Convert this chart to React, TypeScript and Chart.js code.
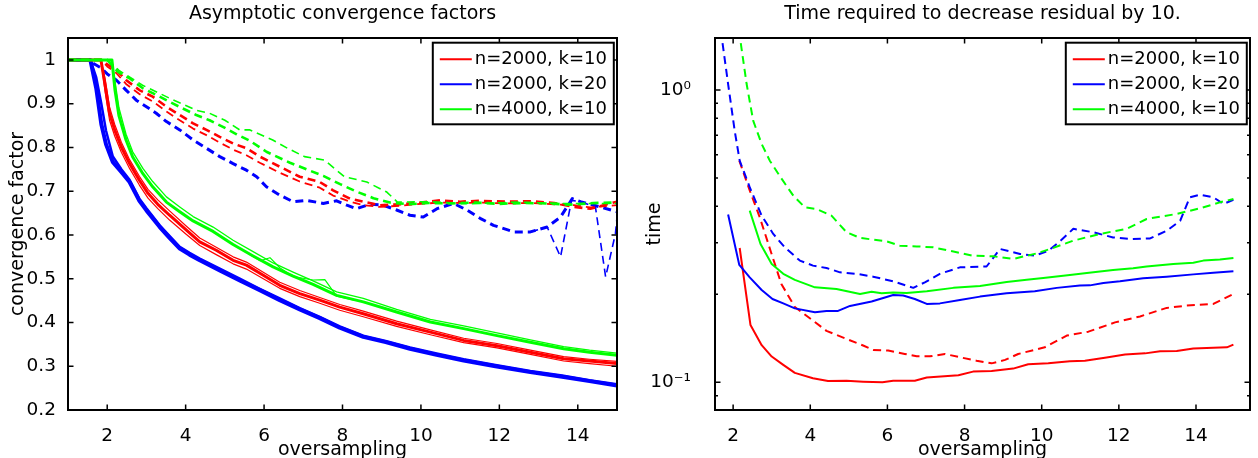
import React, { useEffect, useRef } from "react";
import { Chart, registerables } from "chart.js";
Chart.register(...registerables);

const FONT = "'DejaVu Sans', 'Liberation Sans', sans-serif";
const RED = "#ff0000";
const BLUE = "#0000ff";
const GREEN = "#00ff00";

// ---------- tick labels / text ----------
const leftTitle = "Asymptotic convergence factors";
const rightTitle = "Time required to decrease residual by 10.";
const xAxisLabel = "oversampling";
const leftYLabel = "convergence factor";
const rightYLabel = "time";
const leftXTicks = [2, 4, 6, 8, 10, 12, 14];
const leftYTicks = [0.2, 0.3, 0.4, 0.5, 0.6, 0.7, 0.8, 0.9, 1];
const rightXTicks = [2, 4, 6, 8, 10, 12, 14];
const rightYTicks = [0.09, 0.1, 0.2, 0.3, 0.4, 0.5, 0.6, 0.7, 0.8, 0.9, 1];
const legendLabels = ["n=2000, k=10", "n=2000, k=20", "n=4000, k=10"];
const legendColors = [RED, BLUE, GREEN];

// ---------- left panel: convergence factors (solid) ----------
const cfRedX = [1, 1.84, 1.95, 2.06, 2.19, 2.36, 2.57, 2.82, 3.04, 3.29, 3.59, 4.02, 4.36, 4.78, 5.21, 5.55, 5.98, 6.4, 6.91, 7.42, 7.93, 8.53, 9.38, 10.24, 11.09, 11.94, 12.79, 13.64, 14.3, 15];
const cfRedA = [1, 1, 0.94, 0.878, 0.84, 0.801, 0.763, 0.725, 0.695, 0.67, 0.645, 0.611, 0.584, 0.565, 0.542, 0.531, 0.508, 0.485, 0.466, 0.451, 0.435, 0.42, 0.397, 0.378, 0.359, 0.347, 0.332, 0.317, 0.312, 0.306];
const cfRedB = [1, 1, 0.925, 0.862, 0.826, 0.789, 0.752, 0.714, 0.684, 0.66, 0.634, 0.601, 0.576, 0.555, 0.534, 0.522, 0.5, 0.478, 0.459, 0.444, 0.428, 0.413, 0.391, 0.372, 0.354, 0.342, 0.327, 0.312, 0.306, 0.3];
const cfRedC = [1, 1, 0.955, 0.892, 0.853, 0.812, 0.772, 0.734, 0.704, 0.68, 0.655, 0.62, 0.593, 0.572, 0.55, 0.538, 0.515, 0.492, 0.473, 0.457, 0.441, 0.426, 0.403, 0.383, 0.364, 0.352, 0.337, 0.322, 0.316, 0.311];

const cfBlueX = [1, 1.57, 1.72, 1.85, 1.97, 2.14, 2.36, 2.57, 2.82, 3.0, 3.34, 3.6, 3.85, 4.1, 4.36, 4.87, 5.38, 5.89, 6.4, 6.91, 7.42, 7.93, 8.53, 9.1, 9.72, 10.4, 11.09, 11.9, 12.79, 13.6, 14.3, 15];
const cfBlueA = [1, 1, 0.935, 0.853, 0.807, 0.767, 0.744, 0.721, 0.678, 0.656, 0.618, 0.592, 0.569, 0.555, 0.542, 0.519, 0.496, 0.474, 0.451, 0.43, 0.41, 0.388, 0.367, 0.355, 0.34, 0.326, 0.313, 0.3, 0.2865, 0.276, 0.266, 0.256];
const cfBlueB = [1, 1, 0.96, 0.9, 0.838, 0.78, 0.75, 0.726, 0.683, 0.661, 0.622, 0.597, 0.573, 0.559, 0.546, 0.523, 0.5, 0.477, 0.455, 0.433, 0.413, 0.391, 0.37, 0.358, 0.343, 0.329, 0.316, 0.303, 0.289, 0.279, 0.268, 0.259];

const cfGreenX = [1, 2.12, 2.2, 2.3, 2.48, 2.65, 2.91, 3.16, 3.51, 3.85, 4.19, 4.7, 5.21, 5.72, 6.23, 6.74, 7.25, 7.85, 8.53, 9.38, 10.24, 11.09, 11.94, 12.79, 13.64, 14.3, 15];
const cfGreenA = [1, 1, 0.93, 0.872, 0.817, 0.778, 0.74, 0.71, 0.675, 0.653, 0.632, 0.608, 0.578, 0.552, 0.527, 0.506, 0.487, 0.462, 0.447, 0.424, 0.401, 0.386, 0.37, 0.355, 0.34, 0.332, 0.325];
const cfGreenB = [1, 1, 0.95, 0.89, 0.83, 0.79, 0.752, 0.722, 0.687, 0.664, 0.642, 0.618, 0.588, 0.562, 0.536, 0.515, 0.495, 0.47, 0.455, 0.43, 0.407, 0.392, 0.376, 0.36, 0.345, 0.337, 0.33];
const cfGreenOutX = [5.6, 5.9, 6.15, 6.4, 6.74, 7.25, 7.55, 7.85, 8.3];
const cfGreenOutY = [0.557, 0.541, 0.548, 0.525, 0.505, 0.497, 0.498, 0.46, 0.451];

// ---------- left panel: convergence factors (dashed) ----------
const cfRedDashX = [1, 1.85, 2.0, 2.23, 2.48, 2.82, 3.16, 3.51, 3.85, 4.19, 4.53, 4.87, 5.21, 5.55, 5.89, 6.4, 6.91, 7.42, 7.76, 8.19, 8.53, 8.96, 9.5, 10.0, 10.49, 11.0, 11.5, 12.19, 12.8, 13.4, 13.9, 14.32, 15];
const cfRedDashA = [1, 1, 0.99, 0.977, 0.954, 0.931, 0.916, 0.893, 0.874, 0.855, 0.84, 0.824, 0.809, 0.798, 0.779, 0.756, 0.733, 0.721, 0.702, 0.683, 0.676, 0.668, 0.67, 0.674, 0.679, 0.676, 0.678, 0.676, 0.677, 0.673, 0.664, 0.66, 0.676];
const cfRedDashB = [1, 1, 0.985, 0.97, 0.945, 0.922, 0.905, 0.882, 0.862, 0.843, 0.828, 0.811, 0.795, 0.782, 0.765, 0.742, 0.722, 0.708, 0.69, 0.676, 0.668, 0.664, 0.667, 0.671, 0.674, 0.673, 0.674, 0.672, 0.673, 0.67, 0.668, 0.663, 0.668];

const cfGreenDashX = [1, 2.0, 2.27, 2.57, 2.91, 3.25, 3.59, 3.93, 4.27, 4.61, 4.95, 5.3, 5.64, 6.06, 6.66, 7.08, 7.51, 7.94, 8.36, 8.79, 9.21, 9.7, 10.2, 10.8, 11.4, 12.0, 12.6, 13.2, 13.8, 14.4, 15];
const cfGreenDashA = [1, 1, 0.973, 0.958, 0.935, 0.92, 0.904, 0.889, 0.874, 0.862, 0.847, 0.83, 0.815, 0.79, 0.765, 0.75, 0.735, 0.716, 0.699, 0.684, 0.674, 0.67, 0.673, 0.672, 0.674, 0.671, 0.673, 0.672, 0.669, 0.673, 0.674];
const cfGreenDashOutX = [1, 2.0, 2.3, 2.9, 3.6, 4.27, 4.61, 5.0, 5.38, 5.64, 6.22, 6.6, 7.03, 7.54, 8.05, 8.62, 9.13, 9.4, 10.2, 11.2, 12.4, 13.6, 15];
const cfGreenDashOutY = [1, 1, 0.976, 0.942, 0.912, 0.885, 0.878, 0.862, 0.84, 0.84, 0.817, 0.798, 0.779, 0.771, 0.733, 0.721, 0.698, 0.675, 0.676, 0.671, 0.675, 0.672, 0.672];

const cfBlueDashX = [1, 1.5, 1.85, 2.0, 2.23, 2.48, 2.74, 3.0, 3.25, 3.51, 3.85, 4.19, 4.53, 4.87, 5.21, 5.55, 5.81, 6.06, 6.4, 6.74, 7.08, 7.51, 7.85, 8.11, 8.36, 8.7, 9.04, 9.38, 9.72, 10.06, 10.41, 10.83, 11.17, 11.51, 11.85, 12.37, 12.79, 13.22, 13.56, 13.86, 14.07, 14.41, 15];
const cfBlueDashA = [1, 1, 0.981, 0.968, 0.954, 0.931, 0.908, 0.893, 0.878, 0.859, 0.84, 0.817, 0.798, 0.779, 0.763, 0.748, 0.733, 0.71, 0.691, 0.676, 0.679, 0.672, 0.678, 0.668, 0.66, 0.67, 0.668, 0.657, 0.645, 0.641, 0.66, 0.672, 0.657, 0.638, 0.622, 0.607, 0.607, 0.618, 0.641, 0.683, 0.676, 0.668, 0.653];
const cfBlueSpikeX = [12.79, 13.22, 13.56, 13.84, 14.07, 14.45, 14.71, 14.96, 15];
const cfBlueSpikeY = [0.607, 0.618, 0.55, 0.679, 0.676, 0.664, 0.504, 0.603, 0.64];

// ---------- right panel: time ----------
const tRedX = [2.17, 2.45, 2.74, 3.0, 3.3, 3.6, 4.07, 4.46, 4.94, 5.37, 5.87, 6.15, 6.71, 7.02, 7.84, 8.22, 8.7, 9.26, 9.65, 10.17, 10.73, 11.12, 11.68, 12.16, 12.68, 13.07, 13.5, 13.93, 14.45, 14.8, 14.97];
const tRedY = [0.288, 0.157, 0.134, 0.1225, 0.1147, 0.1077, 0.1032, 0.101, 0.1012, 0.1005, 0.1, 0.1013, 0.1013, 0.1038, 0.1057, 0.1088, 0.1094, 0.1114, 0.1153, 0.1161, 0.118, 0.1185, 0.1215, 0.1244, 0.1256, 0.1276, 0.128, 0.1306, 0.1313, 0.1317, 0.1346];
const tRedDashX = [2.16, 2.43, 2.69, 2.97, 3.25, 3.6, 4.07, 4.42, 4.94, 5.37, 5.63, 6.02, 6.45, 6.76, 7.1, 7.49, 7.88, 8.31, 8.7, 9.05, 9.39, 10.08, 10.65, 11.21, 11.9, 12.55, 13.24, 13.76, 14.45, 14.97];
const tRedDashY = [0.573, 0.453, 0.367, 0.282, 0.217, 0.181, 0.1625, 0.15, 0.1407, 0.1336, 0.129, 0.1285, 0.125, 0.1227, 0.1227, 0.125, 0.1218, 0.1186, 0.1161, 0.1193, 0.125, 0.1318, 0.1445, 0.149, 0.1603, 0.168, 0.1797, 0.183, 0.1854, 0.2006];
const tBlueX = [1.87, 2.16, 2.43, 2.74, 3.02, 3.3, 3.6, 4.12, 4.42, 4.72, 5.03, 5.59, 6.15, 6.41, 6.71, 7.02, 7.36, 7.88, 8.4, 9.09, 9.82, 10.39, 10.99, 11.25, 11.6, 12.03, 12.63, 13.24, 13.93, 14.45, 14.97];
const tBlueY = [0.375, 0.252, 0.2286, 0.207, 0.1928, 0.1862, 0.179, 0.1735, 0.1755, 0.1755, 0.1825, 0.189, 0.199, 0.198, 0.1928, 0.1854, 0.1862, 0.1913, 0.1964, 0.2015, 0.2047, 0.2104, 0.2142, 0.2146, 0.2188, 0.2215, 0.2268, 0.2298, 0.234, 0.2372, 0.2398];
const tBlueDashX = [1.68, 1.87, 2.04, 2.17, 2.43, 2.74, 3.04, 3.34, 3.73, 4.07, 4.42, 4.77, 5.2, 5.63, 6.15, 6.67, 6.97, 7.36, 7.88, 8.57, 8.92, 9.44, 9.82, 10.17, 10.47, 10.82, 11.34, 11.85, 12.29, 12.81, 13.24, 13.59, 13.84, 14.1, 14.45, 14.71, 14.97];
const tBlueDashY = [1.6, 1.048, 0.726, 0.573, 0.465, 0.3715, 0.3218, 0.2895, 0.2608, 0.2507, 0.246, 0.2378, 0.235, 0.2298, 0.2215, 0.2104, 0.2198, 0.235, 0.2473, 0.249, 0.2858, 0.2748, 0.2711, 0.282, 0.3035, 0.335, 0.326, 0.313, 0.3093, 0.3105, 0.33, 0.357, 0.4293, 0.4385, 0.4293, 0.4075, 0.4206];
const tGreenX = [2.43, 2.71, 3.0, 3.3, 3.6, 4.12, 4.68, 5.29, 5.59, 5.85, 6.15, 6.5, 7.02, 7.71, 8.4, 9.09, 9.61, 10.04, 10.73, 11.17, 11.85, 12.37, 12.72, 13.41, 13.93, 14.19, 14.62, 14.97];
const tGreenY = [0.3865, 0.2973, 0.254, 0.235, 0.224, 0.2113, 0.2087, 0.2006, 0.2042, 0.2015, 0.203, 0.202, 0.2047, 0.2104, 0.2137, 0.2205, 0.2244, 0.2275, 0.2329, 0.2366, 0.2423, 0.2454, 0.249, 0.254, 0.2566, 0.2608, 0.263, 0.2663];
const tGreenDashX = [2.15, 2.35, 2.52, 2.74, 2.95, 3.26, 3.56, 3.86, 4.16, 4.55, 4.94, 5.29, 5.98, 6.32, 6.76, 7.19, 7.71, 8.22, 8.74, 9.26, 9.87, 10.3, 10.82, 11.51, 12.2, 12.72, 13.5, 14.1, 14.62, 14.97];
const tGreenDashY = [1.6, 1.048, 0.785, 0.6535, 0.573, 0.4963, 0.435, 0.3968, 0.3917, 0.3715, 0.326, 0.3118, 0.3035, 0.2934, 0.2917, 0.2895, 0.28, 0.271, 0.2698, 0.2643, 0.276, 0.2883, 0.3052, 0.3218, 0.335, 0.362, 0.3767, 0.3937, 0.4127, 0.4237];

// ---------- helpers ----------
const DASH = [8, 5];

function series(xs: number[], ys: number[], color: string, width: number, dashed = false) {
  return {
    data: xs.map((x, i) => ({ x, y: ys[i] })),
    borderColor: color,
    backgroundColor: color,
    borderWidth: width,
    borderDash: dashed ? DASH : [],
    borderJoinStyle: "round",
    pointRadius: 0,
    pointHoverRadius: 0,
    fill: false,
    tension: 0,
    clip: 0,
  };
}

const tickFont = { family: FONT, size: 18.5 };

const framePlugin = {
  id: "frameAndLegend",
  afterDatasetsDraw(chart: any) {
    const { ctx, chartArea: a } = chart;
    const xs = chart.scales.x;
    const ys = chart.scales.y;
    ctx.save();
    ctx.setLineDash([]);
    ctx.strokeStyle = "#000";
    ctx.lineWidth = 1.5;
    ctx.beginPath();
    for (const t of xs.ticks) {
      const p = xs.getPixelForValue(t.value);
      ctx.moveTo(p, a.bottom);
      ctx.lineTo(p, a.bottom - 5.5);
      ctx.moveTo(p, a.top);
      ctx.lineTo(p, a.top + 5.5);
    }
    for (const t of ys.ticks) {
      const p = ys.getPixelForValue(t.value);
      const L = t.label === "" ? 3 : 5.5;
      ctx.moveTo(a.left, p);
      ctx.lineTo(a.left + L, p);
      ctx.moveTo(a.right, p);
      ctx.lineTo(a.right - L, p);
    }
    ctx.stroke();
    ctx.lineWidth = 2;
    ctx.strokeRect(a.left, a.top, a.right - a.left, a.bottom - a.top);

    // legend
    const w = 181;
    const h = 81.6;
    const bx = a.right - 3.2 - w;
    const by = a.top + 4.7;
    ctx.fillStyle = "#fff";
    ctx.fillRect(bx, by, w, h);
    ctx.strokeStyle = "#000";
    ctx.lineWidth = 2;
    ctx.strokeRect(bx, by, w, h);
    ctx.font = `18px ${FONT}`;
    ctx.textBaseline = "middle";
    ctx.textAlign = "left";
    legendLabels.forEach((lab, i) => {
      const yy = by + 16.6 + 25 * i;
      ctx.strokeStyle = legendColors[i];
      ctx.lineWidth = 2;
      ctx.beginPath();
      ctx.moveTo(bx + 7, yy);
      ctx.lineTo(bx + 39, yy);
      ctx.stroke();
      ctx.fillStyle = "#000";
      ctx.fillText(lab, bx + 42, yy + 0.5);
    });
    ctx.restore();
  },
};

function baseOptions(title: string, padRight: number) {
  return {
    animation: false,
    responsive: false,
    devicePixelRatio: 1,
    events: [],
    layout: { padding: { left: 0, right: padRight, top: 0, bottom: 0 } },
    plugins: {
      legend: { display: false },
      tooltip: { enabled: false },
      title: {
        display: true,
        text: title,
        fullSize: false,
        color: "#000",
        font: { family: FONT, size: 19, weight: "normal", lineHeight: 1.2 },
        padding: { top: 3, bottom: 12.2 },
      },
    },
  };
}

function xScale(min: number, max: number, ticks: number[]) {
  return {
    type: "linear",
    min,
    max,
    grid: { display: false },
    border: { display: false },
    ticks: {
      color: "#000",
      font: tickFont,
      padding: 7,
      autoSkip: false,
      maxRotation: 0,
      callback: (v: any) => String(v),
    },
    afterBuildTicks: (s: any) => {
      s.ticks = ticks.map((v) => ({ value: v }));
    },
    afterFit: (s: any) => {
      s.height = 48;
    },
    title: {
      display: true,
      text: xAxisLabel,
      color: "#000",
      font: { family: FONT, size: 19, lineHeight: 0.8 },
      padding: 0,
    },
  };
}

function leftConfig() {
  return {
    type: "line",
    data: {
      datasets: [
        series(cfGreenOutX, cfGreenOutY, GREEN, 1.2),
        series(cfGreenX, cfGreenB, GREEN, 1.3),
        series(cfGreenX, cfGreenA, GREEN, 3),
        series(cfGreenDashOutX, cfGreenDashOutY, GREEN, 1.6, true),
        series(cfGreenDashX, cfGreenDashA, GREEN, 2.6, true),
        series(cfRedX, cfRedC, RED, 1.2),
        series(cfRedX, cfRedB, RED, 1.2),
        series(cfRedX, cfRedA, RED, 3),
        series(cfRedDashX, cfRedDashB, RED, 1.8, true),
        series(cfRedDashX, cfRedDashA, RED, 2.6, true),
        series(cfBlueSpikeX, cfBlueSpikeY, BLUE, 1.6, true),
        series(cfBlueDashX, cfBlueDashA, BLUE, 3, true),
        series(cfBlueX, cfBlueB, BLUE, 2.5),
        series(cfBlueX, cfBlueA, BLUE, 4),
      ],
    },
    options: {
      ...baseOptions(leftTitle, 12),
      scales: {
        x: xScale(1, 15, leftXTicks),
        y: {
          type: "linear",
          min: 0.2,
          max: 1.05,
          grid: { display: false },
          border: { display: false },
          ticks: {
            color: "#000",
            font: tickFont,
            padding: 4,
            autoSkip: false,
            callback: (v: any) => (v === 1 ? "1" : Number(v).toFixed(1)),
          },
          afterBuildTicks: (s: any) => {
            s.ticks = leftYTicks.map((v) => ({ value: v }));
          },
          afterFit: (s: any) => {
            s.width = 68;
          },
          title: {
            display: true,
            text: leftYLabel,
            color: "#000",
            font: { family: FONT, size: 19 },
            padding: { top: 7, bottom: 0 },
          },
        },
      },
    },
    plugins: [framePlugin],
  };
}

function rightConfig() {
  return {
    type: "line",
    data: {
      datasets: [
        series(tGreenX, tGreenY, GREEN, 2),
        series(tGreenDashX, tGreenDashY, GREEN, 2, true),
        series(tBlueX, tBlueY, BLUE, 2),
        series(tBlueDashX, tBlueDashY, BLUE, 2, true),
        series(tRedX, tRedY, RED, 2),
        series(tRedDashX, tRedDashY, RED, 2, true),
      ],
    },
    options: {
      ...baseOptions(rightTitle, 8),
      scales: {
        x: xScale(1.53, 15.4, rightXTicks),
        y: {
          type: "logarithmic",
          min: 0.0804,
          max: 1.506,
          grid: { display: false },
          border: { display: false },
          ticks: {
            color: "#000",
            font: tickFont,
            padding: 16,
            autoSkip: false,
            callback: (v: any) => (v === 1 ? "10\u2070" : v === 0.1 ? "10\u207B\u00B9" : ""),
          },
          afterBuildTicks: (s: any) => {
            s.ticks = rightYTicks.map((v) => ({ value: v }));
          },
          afterFit: (s: any) => {
            s.width = 86;
          },
          title: {
            display: true,
            text: rightYLabel,
            color: "#000",
            font: { family: FONT, size: 19 },
            padding: { top: 15, bottom: 0 },
          },
        },
      },
    },
    plugins: [framePlugin],
  };
}

function Panel({ left, makeConfig }: { left: number; makeConfig: () => any }) {
  const ref = useRef<HTMLCanvasElement>(null);
  useEffect(() => {
    const chart = new Chart(ref.current as HTMLCanvasElement, makeConfig());
    return () => chart.destroy();
  }, []);
  return (
    <canvas
      ref={ref}
      width={629}
      height={458}
      style={{ position: "absolute", left, top: 0, width: 629, height: 458 }}
    />
  );
}

export default function App() {
  return (
    <div
      style={{
        position: "absolute",
        left: 0,
        top: 0,
        width: 1258,
        height: 458,
        background: "#fff",
        overflow: "hidden",
      }}
    >
      <Panel left={0} makeConfig={leftConfig} />
      <Panel left={629} makeConfig={rightConfig} />
    </div>
  );
}
